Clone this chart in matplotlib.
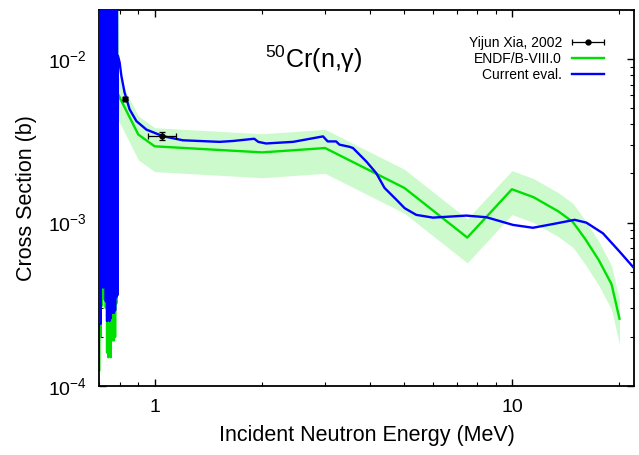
import numpy as np
import matplotlib
matplotlib.use('Agg')
import matplotlib.pyplot as plt
from matplotlib.legend_handler import HandlerErrorbar
from matplotlib.ticker import NullFormatter

plt.rcParams['font.family'] = 'Liberation Sans'
plt.rcParams['mathtext.fontset'] = 'custom'
plt.rcParams['mathtext.rm'] = 'Liberation Sans'
plt.rcParams['mathtext.it'] = 'Liberation Sans:italic'
plt.rcParams['axes.unicode_minus'] = False

# ---------- data (energies in MeV, cross sections in b)

# resolved resonance region, shared energy grid
res_e = [0.700, 0.703, 0.706, 0.709, 0.712, 0.715, 0.718, 0.721, 0.724, 0.727,
         0.730, 0.733, 0.736, 0.739, 0.742, 0.745, 0.748, 0.751, 0.754, 0.757,
         0.760, 0.7645, 0.769, 0.772, 0.775, 0.778, 0.781, 0.784]
res_cur = [2.5e-4, 6e-2, 2.4e-4, 5e-2, 4.1e-4, 8e-2, 4.0e-4, 6e-2, 4.4e-4, 5e-2,
           3.3e-4, 7e-2, 2.5e-4, 5e-2, 2.6e-4, 6e-2, 2.5e-4, 5e-2, 2.6e-4, 8e-2,
           2.8e-4, 1.2e-2, 2.8e-4, 6e-2, 2.9e-4, 7e-2, 3.5e-4, 6e-2]
res_endf = [1.25e-4, 4e-2, 2.0e-4, 5e-2, 3.1e-4, 6e-2, 3.4e-4, 5e-2, 3.9e-4, 5e-2,
            3.0e-4, 6e-2, 1.6e-4, 4e-2, 1.5e-4, 5e-2, 1.7e-4, 4e-2, 1.5e-4, 6e-2,
            1.9e-4, 8e-3, 1.9e-4, 5e-2, 2.0e-4, 5e-2, 3.2e-4, 5e-2]

# current evaluation above the resonances
cur_e = [0.787, 0.789, 0.798, 0.807, 0.824, 0.851, 0.889, 0.948, 1.055, 1.20,
         1.52, 1.66, 1.90, 1.95, 2.05, 2.44, 2.96, 3.05, 3.22, 3.29,
         3.51, 3.59, 3.91, 4.17, 4.40, 4.75, 5.01, 5.40, 6.01, 7.45,
         8.48, 10.07, 11.45, 13.02, 14.98, 16.15, 17.98, 20.02, 22.0]
cur_xs = [3.6e-4, 1.05e-2, 9.55e-3, 7.9e-3, 6.24e-3, 4.93e-3, 4.18e-3, 3.71e-3, 3.38e-3, 3.19e-3,
          3.12e-3, 3.16e-3, 3.26e-3, 3.12e-3, 3.05e-3, 3.12e-3, 3.37e-3, 3.14e-3, 3.14e-3, 3.0e-3,
          2.91e-3, 2.86e-3, 2.37e-3, 2.01e-3, 1.63e-3, 1.38e-3, 1.225e-3, 1.115e-3, 1.073e-3, 1.104e-3,
          1.079e-3, 9.68e-4, 9.3e-4, 9.8e-4, 1.04e-3, 1.0e-3, 8.6e-4, 6.64e-4, 5.25e-4]

# ENDF/B-VIII.0 above the resonances
endf_e = [0.7865, 0.790, 0.900, 1.0, 2.0, 3.0, 5.0, 7.5, 10.0, 11.5,
          13.5, 14.8, 16.0, 17.5, 19.0, 20.0]
endf_xs = [2.6e-3, 6.1e-3, 3.46e-3, 2.93e-3, 2.69e-3, 2.86e-3, 1.63e-3, 8.1e-4, 1.6e-3, 1.43e-3,
           1.17e-3, 1.01e-3, 8.0e-4, 5.9e-4, 4.2e-4, 2.58e-4]
endf_rel_unc = 0.30

# Yijun Xia, 2002
exp_e = [0.826, 1.05]
exp_xs = [5.74e-3, 3.41e-3]
exp_de_lo = [0.011, 0.092]
exp_de_hi = [0.011, 0.095]
exp_dxs = [0.1e-3, 0.2e-3]

x_ticks = [1, 10]
x_tick_labels = ['1', '10']
y_ticks = [1e-4, 1e-3, 1e-2]

# ----------

fig = plt.figure(figsize=(6.39, 4.55), dpi=100)
ax = fig.add_axes([0.1554, 0.1516, 0.8372, 0.8264])

e_cur = np.array(res_e + cur_e)
xs_cur = np.array(res_cur + cur_xs)
e_endf = np.array(res_e + endf_e)
xs_endf = np.array(res_endf + endf_xs)

# uncertainty band only above the resonance region
band_e = np.array(endf_e[1:])
band_xs = np.array(endf_xs[1:])
ax.fill_between(band_e, band_xs * (1 - endf_rel_unc), band_xs * (1 + endf_rel_unc),
                color='#ccfacc', lw=0, zorder=1)

l_endf, = ax.plot(e_endf, xs_endf, color='#00e000', lw=1.7, zorder=2)
l_cur, = ax.plot(e_cur, xs_cur, color='#0000ff', lw=1.7, zorder=3)

h_exp = ax.errorbar(exp_e, exp_xs, xerr=[exp_de_lo, exp_de_hi], yerr=exp_dxs,
                    fmt='o', ms=3.5, color='black', elinewidth=0.9,
                    capsize=2.5, capthick=0.9, zorder=5)

ax.set_xscale('log')
ax.set_yscale('log')
ax.set_xlim(0.7, 22)
ax.set_ylim(1e-4, 2e-2)

ax.set_xticks(x_ticks, labels=x_tick_labels)
ax.set_yticks(y_ticks)
ax.xaxis.set_minor_formatter(NullFormatter())
ax.yaxis.set_minor_formatter(NullFormatter())

ax.tick_params(which='both', direction='in', top=True, right=True, labelsize=14)
ax.tick_params(which='major', length=5, width=1)
ax.tick_params(which='minor', length=3, width=0.8)
ax.tick_params(axis='x', which='major', pad=9)
ax.tick_params(axis='y', which='major', pad=9)
for s in ax.spines.values():
    s.set_linewidth(1.3)

ax.set_xlabel('Incident Neutron Energy (MeV)', fontsize=15.5, labelpad=7)
ax.set_ylabel('Cross Section (b)', fontsize=15.5, labelpad=8)

ax.text(0.40, 0.845, r'$\mathregular{^{50}}$Cr(n,γ)', transform=ax.transAxes,
        ha='center', va='baseline', fontsize=18)

leg = ax.legend([h_exp, l_endf, l_cur],
                ['Yijun Xia, 2002', 'ENDF/B-VIII.0', 'Current eval.'],
                loc='upper right', bbox_to_anchor=(0.943, 0.931),
                markerfirst=False, frameon=False, fontsize=10,
                borderpad=0, borderaxespad=0, handlelength=2.3,
                handletextpad=0.7, labelspacing=0.15,
                handler_map={type(h_exp): HandlerErrorbar(xerr_size=1.15, yerr_size=0,
                                                          numpoints=1)})

fig.savefig('out.png', dpi=100)
